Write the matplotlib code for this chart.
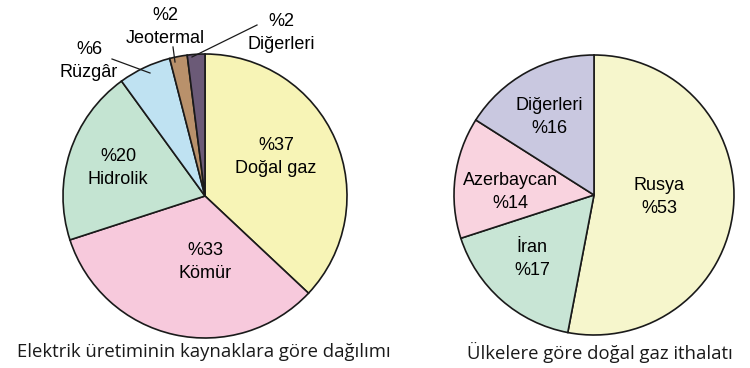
import matplotlib
matplotlib.use("Agg")
import matplotlib.pyplot as plt
import numpy as np

# Left pie: electricity generation by source
src_labels = ["Doğal gaz", "Kömür", "Hidrolik", "Rüzgâr", "Jeotermal", "Diğerleri"]
src_values = [37, 33, 20, 6, 2, 2]
src_colors = ["#f7f4b6", "#f7c9dc", "#c4e4d2", "#bfe2f2", "#b9916b", "#6b5a77"]

# Right pie: natural gas imports by country
imp_labels = ["Rusya", "İran", "Azerbaycan", "Diğerleri"]
imp_values = [53, 17, 14, 16]
imp_colors = ["#f6f6cc", "#c8e5d5", "#f9d3df", "#c9c8e0"]

W, H = 750, 368
fig = plt.figure(figsize=(7.5, 3.68), dpi=100)
FONT = ["Liberation Sans", "DejaVu Sans"]
FS = 13
LS = 1.42

def px_axes(cx, cy, r):
    return fig.add_axes([(cx - r) / W, (H - cy - r) / H, 2 * r / W, 2 * r / H])

def to_data(px, py, cx, cy, r):
    return (px - cx) / r, (cy - py) / r

# ---- left pie
lcx, lcy, lr = 205, 196, 142
axL = px_axes(lcx, lcy, lr)
axL.pie(src_values, colors=src_colors, startangle=90, counterclock=False,
        radius=1, wedgeprops=dict(edgecolor="#1a1a1a", linewidth=1.2))
axL.set_xlim(-1, 1); axL.set_ylim(-1, 1); axL.set_aspect("equal"); axL.axis("off")

inside_L = {0: (276, 157), 1: (205, 262), 2: (118, 168)}
for i, (px, py) in inside_L.items():
    x, y = to_data(px, py, lcx, lcy, lr)
    axL.text(x, y, f"%{src_values[i]}\n{src_labels[i]}", ha="center", va="center",
             fontsize=FS, family=FONT, linespacing=LS)

outside_L = {3: ((89, 61), (112, 59), (150, 73)),
             4: ((165, 27), (173, 47), (175, 62)),
             5: ((281, 33), (257, 25), (192, 57))}
for i, (tpos, p0, p1) in outside_L.items():
    x, y = to_data(*tpos, lcx, lcy, lr)
    axL.text(x, y, f"%{src_values[i]}\n{src_labels[i]}", ha="center", va="center",
             fontsize=FS, family=FONT, linespacing=LS, clip_on=False)
    x0, y0 = to_data(*p0, lcx, lcy, lr)
    x1, y1 = to_data(*p1, lcx, lcy, lr)
    axL.plot([x0, x1], [y0, y1], color="#1a1a1a", lw=0.9, clip_on=False)

# ---- right pie
rcx, rcy, rr = 594, 195, 140
axR = px_axes(rcx, rcy, rr)
axR.pie(imp_values, colors=imp_colors, startangle=90, counterclock=False,
        radius=1, wedgeprops=dict(edgecolor="#1a1a1a", linewidth=1.2))
axR.set_xlim(-1, 1); axR.set_ylim(-1, 1); axR.set_aspect("equal"); axR.axis("off")

inside_R = {0: (659, 197), 1: (532, 259), 2: (510, 192), 3: (549, 117)}
for i, (px, py) in inside_R.items():
    x, y = to_data(px, py, rcx, rcy, rr)
    axR.text(x, y, f"{imp_labels[i]}\n%{imp_values[i]}", ha="center", va="center",
             fontsize=FS, family=FONT, linespacing=LS)

# ---- captions
TFONT = ["Open Sans", "DejaVu Sans"]
fig.text(204 / W, 1 - 352 / H, "Elektrik üretiminin kaynaklara göre dağılımı",
         ha="center", va="center", fontsize=13.3, family=TFONT, color="#1a1a1a")
fig.text(600 / W, 1 - 352 / H, "Ülkelere göre doğal gaz ithalatı",
         ha="center", va="center", fontsize=13.3, family=TFONT, color="#1a1a1a")

fig.savefig("out.png", dpi=100, facecolor="white")
